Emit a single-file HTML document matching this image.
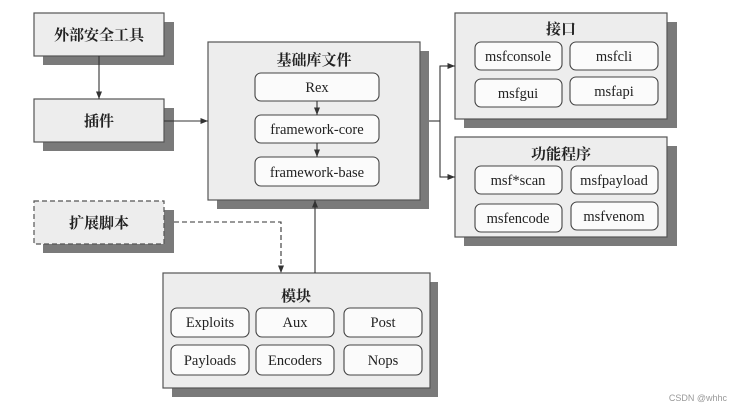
<!DOCTYPE html>
<html><head><meta charset="utf-8"><style>
html,body{margin:0;padding:0;background:#fff;}
svg{display:block}
.cn{font-family:"Liberation Serif","Noto Serif CJK SC",serif;font-weight:bold;font-size:15px;fill:#222;text-anchor:middle}
.en{font-family:"Liberation Serif",serif;font-size:14.5px;fill:#222;text-anchor:middle}
.box{fill:#ededed;stroke:#555;stroke-width:1.2}
.sh{fill:#7a7a7a}
.rb{fill:#fbfbfb;stroke:#444;stroke-width:1.1}
.ln{stroke:#333;stroke-width:1.1;fill:none}
</style></head><body>
<svg width="736" height="409" viewBox="0 0 736 409">
<defs><marker id="a" viewBox="0 0 10 10" refX="10" refY="5" markerWidth="7" markerHeight="7" orient="auto"><path d="M0,1 L10,5 L0,9 z" fill="#333"/></marker></defs>
<!-- left boxes -->
<rect class="sh" x="43" y="22" width="131" height="43"/>
<rect class="box" x="34" y="13" width="130" height="43"/>
<text class="cn" x="99" y="40">外部安全工具</text>
<rect class="sh" x="43" y="108" width="131" height="43"/>
<rect class="box" x="34" y="99" width="130" height="43"/>
<text class="cn" x="99" y="126">插件</text>
<rect class="sh" x="43" y="210" width="131" height="43"/>
<rect class="box" x="34" y="201" width="130" height="43" style="stroke-dasharray:5,3"/>
<text class="cn" x="99" y="228">扩展脚本</text>
<!-- base -->
<rect class="sh" x="217" y="51" width="212" height="158"/>
<rect class="box" x="208" y="42" width="212" height="158"/>
<text class="cn" x="314" y="65">基础库文件</text>
<rect class="rb" x="255" y="73" width="124" height="28" rx="6"/><text class="en" x="317" y="92">Rex</text>
<rect class="rb" x="255" y="115" width="124" height="28" rx="6"/><text class="en" x="317" y="134">framework-core</text>
<rect class="rb" x="255" y="157" width="124" height="29" rx="6"/><text class="en" x="317" y="177">framework-base</text>
<line class="ln" x1="317" y1="101" x2="317" y2="115" marker-end="url(#a)"/>
<line class="ln" x1="317" y1="143" x2="317" y2="157" marker-end="url(#a)"/>
<!-- 接口 -->
<rect class="sh" x="464" y="22" width="213" height="106"/>
<rect class="box" x="455" y="13" width="212" height="106"/>
<text class="cn" x="561" y="34">接口</text>
<rect class="rb" x="475" y="42" width="87" height="28" rx="6"/><text class="en" x="518" y="61">msfconsole</text>
<rect class="rb" x="570" y="42" width="88" height="28" rx="6"/><text class="en" x="614" y="61">msfcli</text>
<rect class="rb" x="475" y="79" width="87" height="28" rx="6"/><text class="en" x="518" y="98">msfgui</text>
<rect class="rb" x="570" y="77" width="88" height="28" rx="6"/><text class="en" x="614" y="96">msfapi</text>
<!-- 功能程序 -->
<rect class="sh" x="464" y="146" width="213" height="100"/>
<rect class="box" x="455" y="137" width="212" height="100"/>
<text class="cn" x="561" y="159">功能程序</text>
<rect class="rb" x="475" y="166" width="87" height="28" rx="6"/><text class="en" x="518" y="185">msf*scan</text>
<rect class="rb" x="571" y="166" width="87" height="28" rx="6"/><text class="en" x="614" y="185">msfpayload</text>
<rect class="rb" x="475" y="204" width="87" height="28" rx="6"/><text class="en" x="518" y="223">msfencode</text>
<rect class="rb" x="571" y="202" width="87" height="28" rx="6"/><text class="en" x="614" y="221">msfvenom</text>
<!-- 模块 -->
<rect class="sh" x="172" y="282" width="266" height="115"/>
<rect class="box" x="163" y="273" width="267" height="115"/>
<text class="cn" x="296" y="301">模块</text>
<rect class="rb" x="171" y="308" width="78" height="29" rx="6"/><text class="en" x="210" y="327">Exploits</text>
<rect class="rb" x="256" y="308" width="78" height="29" rx="6"/><text class="en" x="295" y="327">Aux</text>
<rect class="rb" x="344" y="308" width="78" height="29" rx="6"/><text class="en" x="383" y="327">Post</text>
<rect class="rb" x="171" y="345" width="78" height="30" rx="6"/><text class="en" x="210" y="365">Payloads</text>
<rect class="rb" x="256" y="345" width="78" height="30" rx="6"/><text class="en" x="295" y="365">Encoders</text>
<rect class="rb" x="344" y="345" width="78" height="30" rx="6"/><text class="en" x="383" y="365">Nops</text>
<!-- connectors -->
<line class="ln" x1="99" y1="56" x2="99" y2="99" marker-end="url(#a)"/>
<line class="ln" x1="164" y1="121" x2="208" y2="121" marker-end="url(#a)"/>
<polyline class="ln" points="429,121 440,121"/>
<polyline class="ln" points="455,66 440,66 440,177 455,177"/>
<line class="ln" x1="440" y1="66" x2="455" y2="66" marker-end="url(#a)"/>
<line class="ln" x1="440" y1="177" x2="455" y2="177" marker-end="url(#a)"/>
<line class="ln" x1="315" y1="273" x2="315" y2="200" marker-end="url(#a)"/>
<polyline class="ln" points="174,222 281,222 281,273" style="stroke-dasharray:5,3" marker-end="url(#a)"/>
<text x="727" y="401" style="font-family:'Liberation Sans',sans-serif;font-size:9px;fill:#999;text-anchor:end">CSDN @whhc</text>
</svg>
</body></html>
